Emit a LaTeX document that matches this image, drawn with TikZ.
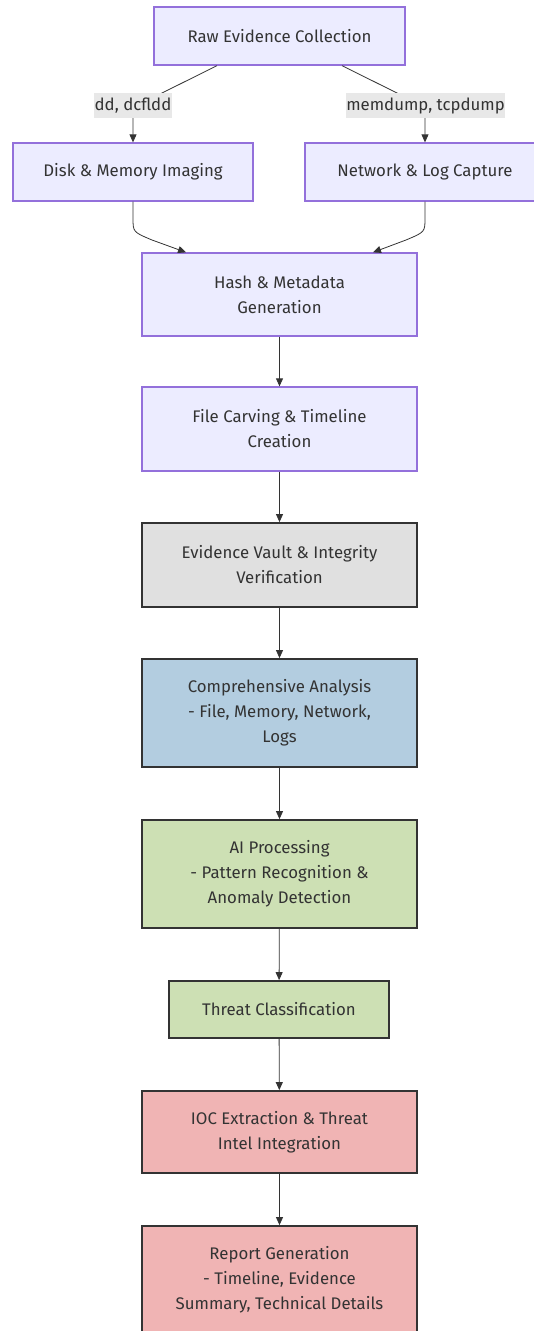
\documentclass[tikz,border=0pt]{standalone}
\usepackage{fontspec}
\setmainfont{Fira Sans}
\usetikzlibrary{arrows.meta}
\definecolor{lav}{HTML}{ECECFF}
\definecolor{lavline}{HTML}{9370DB}
\definecolor{ink}{HTML}{333333}
\definecolor{vaultfill}{HTML}{E0E0E0}
\definecolor{bluefill}{HTML}{B3CDE0}
\definecolor{greenfill}{HTML}{CDE0B4}
\definecolor{pinkfill}{HTML}{F0B4B4}
\definecolor{labelbg}{HTML}{E8E8E8}
\tikzset{
  base/.style={rectangle, inner sep=0pt, align=center, text=ink,
    font=\fontsize{16.8}{25}\selectfont},
  lavbox/.style={base, fill=lav, draw=lavline, line width=1.3pt},
  darkbox/.style={base, draw=ink, line width=1.8pt},
  edgelbl/.style={rectangle, fill=labelbg, inner sep=0pt, text=ink,
    minimum width=78pt, minimum height=25pt, font=\fontsize{16.8}{18}\selectfont},
  link/.style={draw=ink, line width=0.8pt, -{Triangle[length=8pt,width=7pt]}},
}
\begin{document}
\begin{tikzpicture}[x=1pt,y=-1pt]
\useasboundingbox (0,0) rectangle (534,1331);
\clip (0,0) rectangle (534,1331);
\fill[white] (0,0) rectangle (534,1331);

% nodes
\node[lavbox, minimum width=251pt, minimum height=58pt] (raw) at (279.5,36) {Raw Evidence Collection};
\node[lavbox, minimum width=240pt, minimum height=58pt] (disk) at (133,172) {Disk \& Memory Imaging};
\node[lavbox, minimum width=240pt, minimum height=58pt] (net) at (425,172) {Network \& Log Capture};
\node[lavbox, minimum width=275pt, minimum height=83pt] (hash) at (279.5,294.5) {Hash \& Metadata\\Generation};
\node[lavbox, minimum width=275pt, minimum height=84pt] (carve) at (279.5,429) {File Carving \& Timeline\\Creation};
\node[darkbox, fill=vaultfill, minimum width=275pt, minimum height=84pt] (vault) at (279.5,565) {Evidence Vault \& Integrity\\Verification};
\node[darkbox, fill=bluefill, minimum width=275pt, minimum height=108pt] (comp) at (279.5,713) {Comprehensive Analysis\\- File, Memory, Network,\\Logs};
\node[darkbox, fill=greenfill, minimum width=275pt, minimum height=108pt] (ai) at (279.5,874) {AI Processing\\- Pattern Recognition \&\\Anomaly Detection};
\node[darkbox, fill=greenfill, minimum width=220pt, minimum height=57pt] (threat) at (279,1009.5) {Threat Classification};
\node[darkbox, fill=pinkfill, minimum width=275pt, minimum height=82pt] (ioc) at (279.5,1132) {IOC Extraction \& Threat\\Intel Integration};
\node[darkbox, fill=pinkfill, minimum width=275pt, minimum height=107pt] (report) at (279.5,1279.5) {Report Generation\\- Timeline, Evidence\\Summary, Technical Details};

% branching connectors from the collection step
\coordinate (rawL) at ([xshift=-62.5pt]raw.south);
\coordinate (rawR) at ([xshift=62.5pt]raw.south);
\draw[link] (rawL) -- (160,94) .. controls (133,107) .. (133,120) -- (disk.north);
\draw[link] (rawR) -- (399,94) .. controls (425,107) .. (425,120) -- (net.north);
\node[edgelbl] (lblL) at (133,105.5) {dd, dcfldd};
\node[edgelbl, minimum width=157pt] (lblR) at (425.5,105.5) {memdump, tcpdump};

% merging connectors into hashing
\coordinate (hashL) at ([xshift=-93.5pt]hash.north);
\coordinate (hashR) at ([xshift=93.5pt]hash.north);
\draw[link] (disk.south) -- (133,218) .. controls (133,232) .. (152,240) -- (hashL);
\draw[link] (net.south) -- (425,218) .. controls (425,232) .. (406,240) -- (hashR);

% main pipeline
\draw[link] (hash) -- (carve);
\draw[link] (carve) -- (vault);
\draw[link] (vault) -- (comp);
\draw[link] (comp) -- (ai);
\draw[link] (ai) -- (threat);
\draw[link] (threat) -- (ioc);
\draw[link] (ioc) -- (report);
\end{tikzpicture}
\end{document}
